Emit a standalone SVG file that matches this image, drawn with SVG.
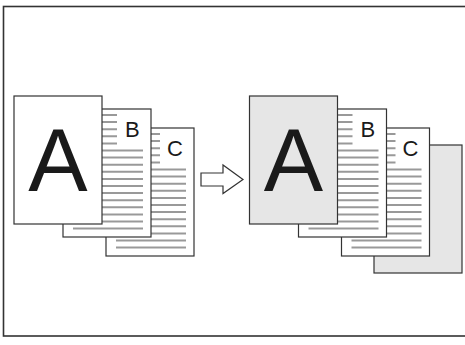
<svg xmlns="http://www.w3.org/2000/svg" xmlns:xlink="http://www.w3.org/1999/xlink" width="465" height="345" viewBox="0 0 465 345">
<style>
.frame{fill:none;stroke:#333;stroke-width:1.6}
.page{fill:#fff;stroke:#333;stroke-width:1.2}
.shaded{fill:#e6e6e6;stroke:#333;stroke-width:1.2}
.txt{stroke:#999;stroke-width:2;fill:none}
.big{font-family:"Liberation Sans",Arial,sans-serif;font-size:89px;fill:#1a1a1a;text-anchor:middle}
.lbl{font-family:"Liberation Sans",Arial,sans-serif;font-size:22px;fill:#1a1a1a}
.arrow{fill:#fff;stroke:#333;stroke-width:1.2}
</style>
<defs>
<path id="lines" class="txt" d="M10 6H54M10 13.1H54M10 20.2H54M10 27.3H54M10 34.4H54M10 41.5H80M10 48.6H80M10 55.7H80M10 62.8H80M10 69.9H80M10 77H80M10 84.1H80M10 91.2H80M10 98.3H80M10 105.4H80M10 112.5H80M10 119.6H80"/>
</defs>
<rect class="frame" x="3.5" y="6.5" width="470" height="329.5"/>
<g id="left-C">
<rect class="page" x="106" y="128" width="88" height="128"/>
<use xlink:href="#lines" x="106" y="128"/>
<text class="lbl" x="167" y="156">C</text>
</g>
<g id="left-B">
<rect class="page" x="63" y="109" width="88" height="128"/>
<use xlink:href="#lines" x="63" y="109"/>
<text class="lbl" x="125" y="137">B</text>
</g>
<g id="left-A">
<rect class="page" x="14" y="96" width="88" height="128"/>
<text class="big" x="58" y="191">A</text>
</g>
<g id="connectors">
<polygon class="arrow" points="201,173 223,173 223,165 243,179.5 223,193.5 223,186 201,186"/>
</g>
<g id="right-D">
<rect class="shaded" x="374" y="145" width="88" height="128"/>
</g>
<g id="right-C">
<rect class="page" x="341.5" y="128" width="88" height="128"/>
<use xlink:href="#lines" x="341.5" y="128"/>
<text class="lbl" x="402.5" y="156">C</text>
</g>
<g id="right-B">
<rect class="page" x="298.5" y="109" width="88" height="128"/>
<use xlink:href="#lines" x="298.5" y="109"/>
<text class="lbl" x="360.5" y="137">B</text>
</g>
<g id="right-A">
<rect class="shaded" x="249.5" y="96" width="88" height="128"/>
<text class="big" x="293.5" y="191">A</text>
</g>
</svg>
